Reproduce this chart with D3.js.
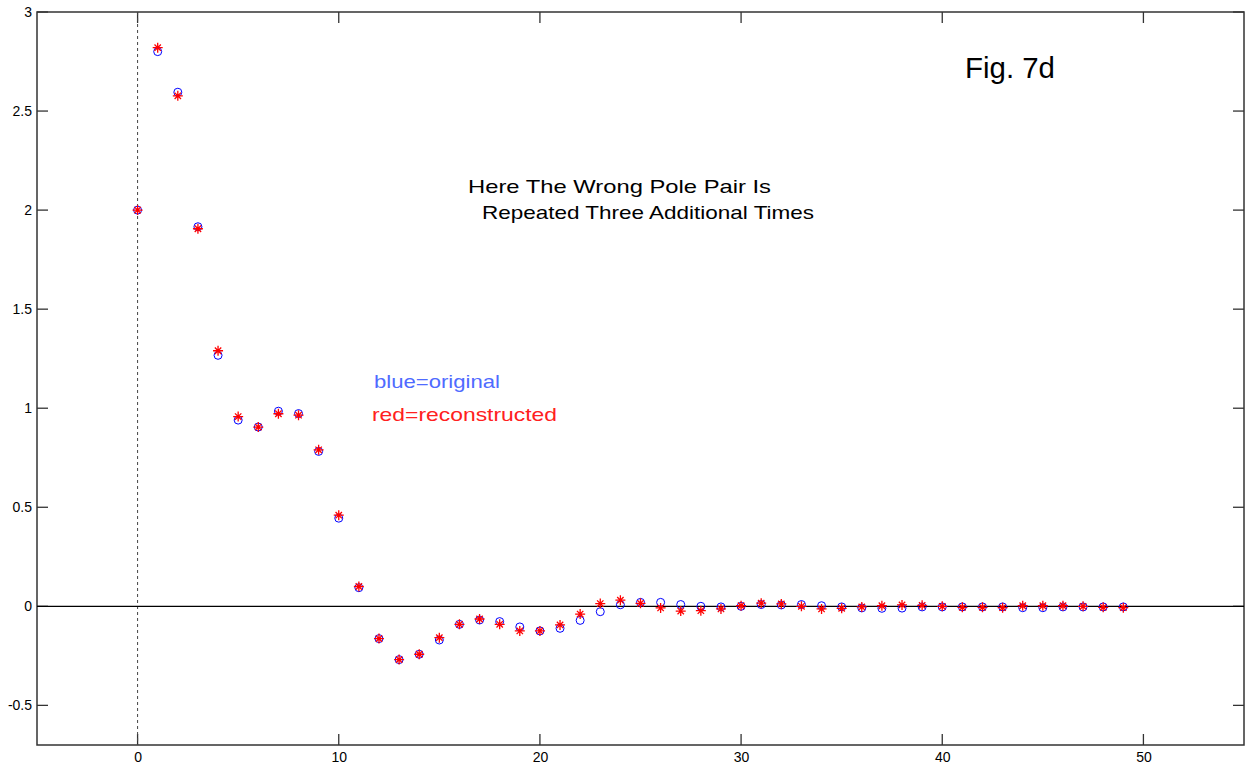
<!DOCTYPE html>
<html>
<head>
    <title>Fig. 7d</title>
    <script src="https://d3js.org/d3.v7.min.js"></script>
    <style>
        body { margin: 0; background: #fff; }
        text { font-family: "Liberation Sans", Arial, sans-serif; }
    </style>
</head>
<body>
    <svg class="chart" width="1246" height="765"></svg>

    <script>
// sample index 0..49
const amostras = d3.range(0, 50);

// blue = original
const original = [
    2.0, 2.80, 2.595, 1.916, 1.267, 0.94, 0.905, 0.985, 0.973, 0.782,
    0.445, 0.094, -0.163, -0.269, -0.242, -0.17, -0.091, -0.069, -0.077, -0.104,
    -0.124, -0.111, -0.071, -0.027, 0.008, 0.02, 0.02, 0.009, 0.0, -0.003,
    0.0, 0.009, 0.007, 0.009, 0.003, -0.003, -0.008, -0.01, -0.009, -0.003,
    -0.003, -0.003, -0.003, -0.003, -0.007, -0.007, -0.003, -0.003, -0.003, -0.003
];

// red = reconstructed
const reconstruido = [
    2.0, 2.82, 2.577, 1.906, 1.29, 0.958, 0.905, 0.972, 0.965, 0.79,
    0.46, 0.10, -0.163, -0.269, -0.242, -0.158, -0.091, -0.064, -0.091, -0.124,
    -0.124, -0.094, -0.039, 0.014, 0.031, 0.015, -0.008, -0.024, -0.022, -0.013,
    0.003, 0.016, 0.012, 0.0, -0.013, -0.01, -0.003, 0.003, 0.007, 0.005,
    0.0, -0.005, -0.005, -0.007, 0.003, 0.003, 0.003, 0.0, -0.005, -0.007
];

const xTicks = [0, 10, 20, 30, 40, 50];
const yTicks = [-0.5, 0, 0.5, 1, 1.5, 2, 2.5, 3];

function desenhar() {
    const svg = d3.select('.chart');
    const margin = { top: 12, right: 2, bottom: 20, left: 37 };
    const width = +svg.attr('width') - margin.left - margin.right;
    const height = +svg.attr('height') - margin.top - margin.bottom;
    const g = svg.append('g').attr('transform', `translate(${margin.left},${margin.top})`);

    const x = d3.scaleLinear().domain([-5, 55]).range([0, width]);
    const y = d3.scaleLinear().domain([-0.7, 3]).range([height, 0]);

    const tk = 11;
    const eixoCor = '#333';
    const fmtY = d => String(d);   // hifen normal, como no matlab

    // eixos: so os rotulos vem do d3 axis, ticks desenhados para dentro
    g.append('g').attr('transform', `translate(0,${height})`)
        .call(d3.axisBottom(x).tickValues(xTicks).tickSize(0).tickPadding(7))
        .call(a => a.select('.domain').remove());
    g.append('g')
        .call(d3.axisLeft(y).tickValues(yTicks).tickSize(0).tickPadding(5).tickFormat(fmtY))
        .call(a => a.select('.domain').remove());

    g.selectAll('.tick text')
        .style('font-size', '14px')
        .style('font-family', '"Liberation Sans", Arial, sans-serif')
        .attr('fill', '#000');

    const ticks = g.append('g').attr('stroke', eixoCor).attr('stroke-width', 1.3);
    xTicks.forEach(v => {
        ticks.append('line').attr('x1', x(v)).attr('x2', x(v)).attr('y1', height).attr('y2', height - tk);
        ticks.append('line').attr('x1', x(v)).attr('x2', x(v)).attr('y1', 0).attr('y2', tk);
    });
    yTicks.forEach(v => {
        ticks.append('line').attr('x1', 0).attr('x2', tk).attr('y1', y(v)).attr('y2', y(v));
        ticks.append('line').attr('x1', width).attr('x2', width - tk).attr('y1', y(v)).attr('y2', y(v));
    });

    g.append('rect')
        .attr('width', width).attr('height', height)
        .attr('fill', 'none').attr('stroke', eixoCor).attr('stroke-width', 1.5);

    // linha vertical tracejada em x=0
    g.append('line')
        .attr('x1', x(0)).attr('x2', x(0)).attr('y1', 0).attr('y2', height)
        .attr('stroke', '#444').attr('stroke-dasharray', '3,3');

    // linha do zero
    g.append('line')
        .attr('x1', 0).attr('x2', width).attr('y1', y(0)).attr('y2', y(0))
        .attr('stroke', '#000').attr('stroke-width', 1.2);

    // circulos azuis
    g.selectAll('.orig')
        .data(amostras)
        .enter().append('circle')
        .attr('class', 'orig')
        .attr('cx', i => x(i))
        .attr('cy', i => y(original[i]))
        .attr('r', 4)
        .attr('fill', 'none')
        .attr('stroke', '#0000ff')
        .attr('stroke-width', 1);

    // asteriscos vermelhos
    const s = 5, d = 3.2;
    const estrela = `M${-s},0L${s},0M0,${-s}L0,${s}M${-d},${-d}L${d},${d}M${-d},${d}L${d},${-d}`;
    g.selectAll('.recon')
        .data(amostras)
        .enter().append('path')
        .attr('class', 'recon')
        .attr('transform', i => `translate(${x(i)},${y(reconstruido[i])})`)
        .attr('d', estrela)
        .attr('fill', 'none')
        .attr('stroke', '#ff0000')
        .attr('stroke-width', 1.3);

    // textos (largura do original forcada com textLength)
    const texto = (tx, ty, fs, cor, len, str) =>
        svg.append('text').attr('x', tx).attr('y', ty)
            .attr('font-size', fs).attr('fill', cor)
            .attr('textLength', len).attr('lengthAdjust', 'spacingAndGlyphs')
            .text(str);

    texto(965, 78, 29, '#000', 90, 'Fig. 7d');
    texto(468, 193, 19, '#000', 303, 'Here The Wrong Pole Pair Is');
    texto(482, 219, 19, '#000', 332, 'Repeated Three Additional Times');
    texto(374, 388, 19, '#4f6bff', 126, 'blue=original');
    texto(372, 421, 19, '#ff2020', 185, 'red=reconstructed');
}

desenhar();
    </script>
</body>
</html>
